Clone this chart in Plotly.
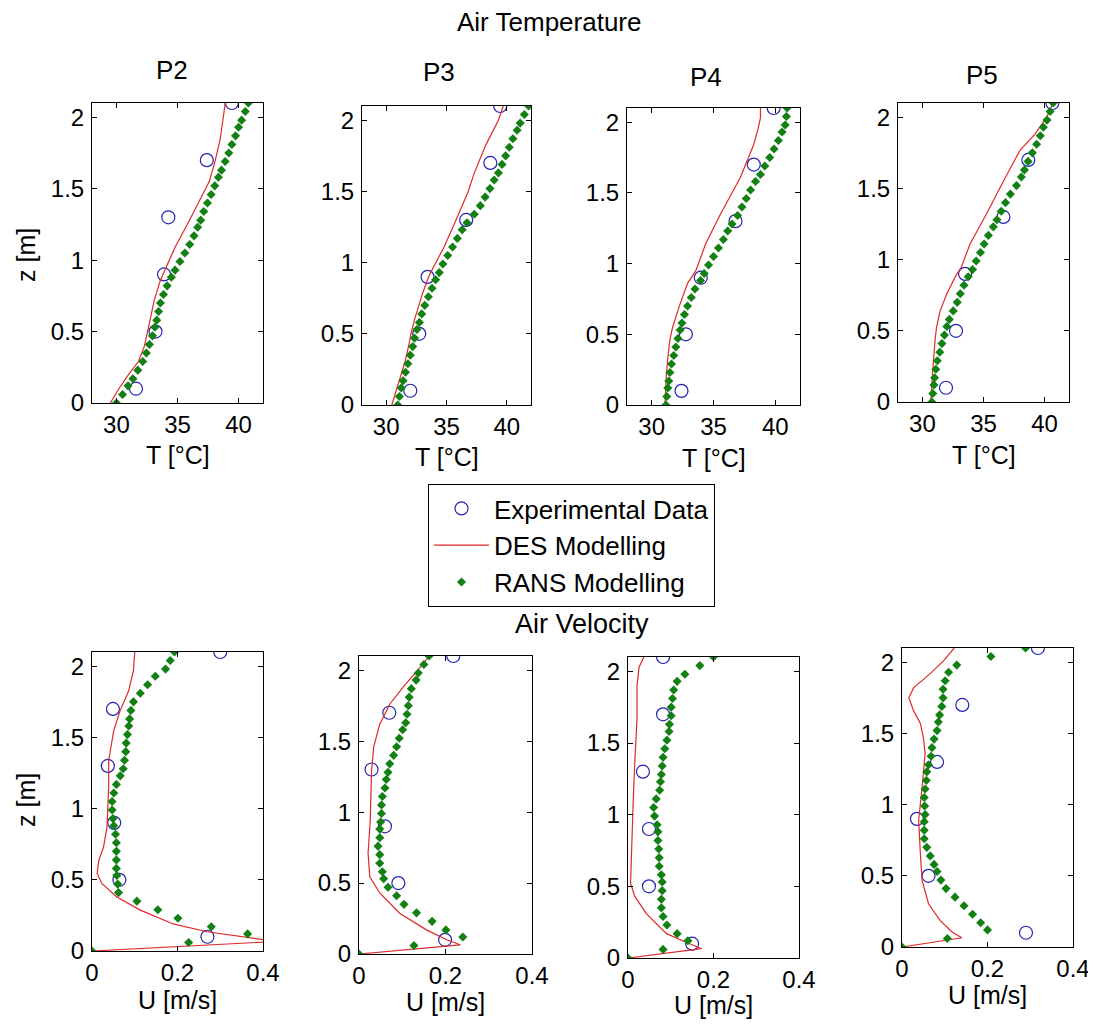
import plotly.graph_objects as go

# The page body adds an 8 px margin at the top-left, so the figure is shifted by it
OFF = 8
W, H = 1096 - OFF, 1026 - OFF
FONT = "Liberation Sans, Arial, sans-serif"

# ---------------- data ----------------
z_exp = [0.1, 0.5, 0.9, 1.3, 1.7, 2.1]
z_rans = [0, 0.06, 0.12, 0.17, 0.23, 0.29, 0.35, 0.41, 0.47, 0.53, 0.58, 0.64, 0.70,
          0.76, 0.82, 0.88, 0.93, 0.99, 1.05, 1.11, 1.17, 1.23, 1.28, 1.34, 1.40, 1.46,
          1.52, 1.58, 1.63, 1.69, 1.75, 1.81, 1.87, 1.93, 1.98, 2.04, 2.10]

# Air temperature [°C]
T_exp_P2 = [31.6, 33.2, 33.9, 34.25, 37.4, 39.45]
T_exp_P3 = [32.0, 32.74, 33.43, 36.63, 38.63, 39.45]
T_exp_P4 = [32.41, 32.76, 33.97, 36.78, 38.26, 39.87]
T_exp_P5 = [31.93, 32.75, 33.49, 36.63, 38.67, 40.64]

T_rans_P2 = [30.0, 30.5, 30.95, 31.35, 31.75, 32.15, 32.45, 32.7, 32.95, 33.15, 33.3, 33.45, 33.6,
             33.85, 34.15, 34.5, 34.8, 35.2, 35.6, 36.0, 36.35, 36.65, 36.9, 37.15, 37.45, 37.75,
             38.05, 38.35, 38.6, 38.9, 39.2, 39.45, 39.75, 40.0, 40.25, 40.55, 40.8]
T_rans_P3 = [30.96, 31.1, 31.25, 31.4, 31.6, 31.8, 32.0, 32.2, 32.35, 32.55, 32.75, 32.95, 33.2,
             33.5, 33.8, 34.1, 34.4, 34.7, 35.1, 35.5, 35.9, 36.3, 36.7, 37.3, 37.8, 38.2,
             38.6, 38.95, 39.3, 39.6, 39.9, 40.2, 40.5, 40.85, 41.1, 41.45, 41.8]
T_rans_P4 = [31.15, 31.22, 31.3, 31.38, 31.47, 31.6, 31.78, 31.95, 32.12, 32.3, 32.45, 32.65, 32.9,
             33.2, 33.5, 33.95, 34.25, 34.6, 35.0, 35.4, 35.8, 36.15, 36.5, 36.95, 37.3, 37.65,
             38.0, 38.4, 38.8, 39.15, 39.55, 39.9, 40.25, 40.55, 40.8, 40.9, 40.95]
T_rans_P5 = [30.77, 30.85, 30.94, 31.0, 31.1, 31.22, 31.42, 31.6, 31.8, 32.0, 32.2, 32.52, 32.85,
             33.1, 33.4, 33.75, 34.1, 34.4, 34.75, 35.05, 35.4, 35.8, 36.1, 36.45, 36.8, 37.2,
             37.7, 38.1, 38.35, 38.65, 39.0, 39.35, 39.65, 39.9, 40.2, 40.45, 40.7]

z_des_T_P2 = [0, 0.1, 0.2, 0.29, 0.4, 0.58, 0.72, 0.86, 1.0, 1.09, 1.25, 1.42, 1.55, 1.7, 1.85, 2.03, 2.1]
T_des_P2 = [29.5, 30.2, 31.0, 31.8, 32.3, 32.75, 33.1, 33.6, 34.3, 34.8, 35.8, 36.85, 37.6, 38.1, 38.5, 38.8, 38.9]
z_des_T_P3 = [0, 0.1, 0.2, 0.3, 0.43, 0.5, 0.6, 0.78, 0.91, 1.0, 1.11, 1.32, 1.5, 1.62, 1.82, 2.0, 2.1]
T_des_P3 = [30.47, 30.85, 31.23, 31.55, 31.9, 32.05, 32.35, 33.0, 33.56, 34.1, 34.8, 35.9, 36.8, 37.26, 38.22, 39.3, 39.7]
z_des_T_P4 = [0, 0.1, 0.2, 0.32, 0.45, 0.55, 0.69, 0.86, 0.95, 1.14, 1.35, 1.61, 1.84, 1.95, 2.03, 2.1]
T_des_P4 = [31.07, 31.12, 31.18, 31.29, 31.45, 31.69, 32.2, 32.9, 33.57, 34.37, 35.57, 37.18, 38.25, 38.6, 38.8, 38.8]
z_des_T_P5 = [0, 0.15, 0.29, 0.45, 0.53, 0.64, 0.76, 0.877, 0.95, 1.11, 1.32, 1.53, 1.77, 1.88, 2.0, 2.1]
T_des_P5 = [30.68, 30.78, 30.9, 31.05, 31.17, 31.45, 32.0, 32.67, 33.2, 33.9, 35.24, 36.5, 38.0, 39.2, 40.17, 40.7]

# Air velocity [m/s]
U_exp_P2 = [0.27, 0.064, 0.052, 0.037, 0.049, 0.30]
U_exp_P3 = [0.199, 0.091, 0.060, 0.029, 0.070, 0.218]
U_exp_P4 = [0.150, 0.049, 0.049, 0.035, 0.082, 0.082]
U_exp_P5 = [0.29, 0.062, 0.035, 0.082, 0.141, 0.318]

U_rans_P2 = [0, 0.226, 0.364, 0.279, 0.201, 0.154, 0.105, 0.062, 0.060, 0.058, 0.057, 0.057, 0.057,
             0.057, 0.055, 0.051, 0.049, 0.047, 0.047, 0.051, 0.057, 0.066, 0.073, 0.076, 0.079, 0.080,
             0.083, 0.086, 0.088, 0.091, 0.097, 0.113, 0.130, 0.148, 0.172, 0.183, 0.193]
U_rans_P3 = [0, 0.127, 0.240, 0.201, 0.169, 0.133, 0.104, 0.087, 0.067, 0.057, 0.054, 0.048, 0.048,
             0.044, 0.048, 0.048, 0.050, 0.052, 0.052, 0.054, 0.060, 0.063, 0.067, 0.071, 0.080, 0.087,
             0.093, 0.101, 0.108, 0.111, 0.114, 0.116, 0.121, 0.132, 0.137, 0.150, 0.162]
U_rans_P4 = [0, 0.082, 0.140, 0.115, 0.091, 0.082, 0.078, 0.078, 0.080, 0.080, 0.078, 0.073, 0.073,
             0.072, 0.070, 0.070, 0.068, 0.062, 0.060, 0.066, 0.074, 0.076, 0.078, 0.080, 0.082, 0.086,
             0.091, 0.096, 0.097, 0.101, 0.101, 0.104, 0.107, 0.115, 0.133, 0.168, 0.200]
U_rans_P5 = [0, 0.106, 0.200, 0.184, 0.165, 0.145, 0.124, 0.103, 0.091, 0.082, 0.075, 0.066, 0.058,
             0.052, 0.052, 0.052, 0.054, 0.053, 0.052, 0.054, 0.057, 0.058, 0.062, 0.068, 0.070, 0.075,
             0.082, 0.085, 0.088, 0.093, 0.096, 0.096, 0.101, 0.109, 0.128, 0.208, 0.289]

z_des_U_P2 = [0, 0.03, 0.062, 0.07, 0.08, 0.135, 0.19, 0.287, 0.38, 0.474, 0.545, 0.638, 0.73, 0.87,
              1.15, 1.34, 1.55, 1.69, 1.83, 1.97, 2.1]
U_des_P2 = [0, 0.19, 0.40, 0.45, 0.40, 0.269, 0.19, 0.113, 0.058, 0.023, 0.012, 0.016, 0.027, 0.035,
            0.039, 0.039, 0.051, 0.066, 0.086, 0.097, 0.10]
z_des_U_P3 = [0, 0.065, 0.10, 0.17, 0.287, 0.43, 0.544, 0.71, 0.94, 1.29, 1.46, 1.62, 1.76, 1.88, 1.99, 2.09]
U_des_P3 = [0, 0.234, 0.203, 0.156, 0.094, 0.048, 0.025, 0.021, 0.026, 0.029, 0.034, 0.048, 0.071, 0.102, 0.133, 0.16]
z_des_U_P4 = [0, 0.065, 0.11, 0.17, 0.31, 0.43, 0.52, 0.73, 1.08, 1.38, 1.66, 1.9, 2.03, 2.1]
U_des_P4 = [0, 0.172, 0.136, 0.09, 0.043, 0.016, 0.006, 0.008, 0.012, 0.016, 0.021, 0.021, 0.026, 0.037]
z_des_U_P5 = [0, 0.065, 0.105, 0.187, 0.304, 0.468, 0.655, 0.89, 1.12, 1.357, 1.47, 1.57, 1.66, 1.75,
              1.82, 1.92, 2.01, 2.1]
U_des_P5 = [0, 0.14, 0.117, 0.089, 0.062, 0.047, 0.043, 0.039, 0.047, 0.054, 0.050, 0.043, 0.027, 0.016,
            0.027, 0.066, 0.097, 0.122]

z_ticks = [0, 0.5, 1, 1.5, 2]
z_tick_labels = ["0", "0.5", "1", "1.5", "2"]
T_ticks = [30, 35, 40]
U_ticks = [0, 0.2, 0.4]
U_tick_labels = ["0", "0.2", "0.4"]
panel_names = ["P2", "P3", "P4", "P5"]

# ---------------- layout geometry (reference pixels) ----------------
top_boxes = [(92, 263, 103, 403), (362, 531, 106, 405), (627, 800, 108, 405), (898, 1069, 103, 402)]
bot_boxes = [(92, 263, 652, 951), (359, 532, 656, 954), (628, 799, 657, 958), (902, 1073, 648, 947)]
title_pos = [(172, 70), (439, 72), (706, 77), (982, 75)]
xlabel_y = [455, 457, 458, 455, 1000, 1002, 1005, 995]


def fx(X):
    return (X - OFF) / W


def fy(Y):
    return 1 - (Y - OFF) / H


C_EXP = "#2323b0"
C_DES = "#e02828"
C_RANS = "#128012"

panels = [
    (T_exp_P2, z_des_T_P2, T_des_P2, T_rans_P2),
    (T_exp_P3, z_des_T_P3, T_des_P3, T_rans_P3),
    (T_exp_P4, z_des_T_P4, T_des_P4, T_rans_P4),
    (T_exp_P5, z_des_T_P5, T_des_P5, T_rans_P5),
    (U_exp_P2, z_des_U_P2, U_des_P2, U_rans_P2),
    (U_exp_P3, z_des_U_P3, U_des_P3, U_rans_P3),
    (U_exp_P4, z_des_U_P4, U_des_P4, U_rans_P4),
    (U_exp_P5, z_des_U_P5, U_des_P5, U_rans_P5),
]

fig = go.Figure()
layout = dict(
    width=W, height=H, margin=dict(l=0, r=0, t=0, b=0, autoexpand=False),
    paper_bgcolor="white", plot_bgcolor="white",
    font=dict(family=FONT, color="black"),
    showlegend=True,
    legend=dict(x=fx(428), y=fy(484), xanchor="left", yanchor="top",
                bordercolor="black", borderwidth=1, bgcolor="white",
                font=dict(size=26, family=FONT, color="black"),
                itemwidth=55, traceorder="normal"),
)

annotations = []
for i, (exp, zd, des, rans) in enumerate(panels):
    k = i + 1
    xa = "x" if k == 1 else f"x{k}"
    ya = "y" if k == 1 else f"y{k}"
    first = (k == 1)
    fig.add_trace(go.Scatter(x=exp, y=z_exp, mode="markers", name="Experimental Data",
                             marker=dict(symbol="circle-open", size=13, color=C_EXP,
                                         line=dict(width=1.2, color=C_EXP)),
                             xaxis=xa, yaxis=ya, showlegend=first, legendgroup="exp"))
    fig.add_trace(go.Scatter(x=des, y=zd, mode="lines", name="DES Modelling",
                             line=dict(color=C_DES, width=1.2),
                             xaxis=xa, yaxis=ya, showlegend=first, legendgroup="des"))
    fig.add_trace(go.Scatter(x=rans, y=z_rans, mode="markers", name="RANS Modelling",
                             marker=dict(symbol="diamond", size=7, color=C_RANS),
                             xaxis=xa, yaxis=ya, showlegend=first, legendgroup="rans"))

    x0, x1, y0, y1 = top_boxes[i] if i < 4 else bot_boxes[i - 4]
    common = dict(showline=True, linecolor="black", linewidth=1, mirror="ticks",
                  ticks="inside", ticklen=5, tickcolor="black", showgrid=False, zeroline=False,
                  tickfont=dict(size=24, family=FONT, color="black"), fixedrange=True,
                  automargin=False, ticklabeloverflow="allow")
    if i < 4:
        xax = dict(domain=[fx(x0), fx(x1)], anchor=ya, range=[28, 42],
                   tickvals=T_ticks, ticktext=[str(t) for t in T_ticks], **common)
    else:
        xax = dict(domain=[fx(x0), fx(x1)], anchor=ya, range=[0, 0.4],
                   tickvals=U_ticks, ticktext=U_tick_labels, **common)
    yax = dict(domain=[fy(y1), fy(y0)], anchor=xa, range=[0, 2.1],
               tickvals=z_ticks, ticktext=z_tick_labels, ticklabelstandoff=2, **common)
    layout["xaxis" if k == 1 else f"xaxis{k}"] = xax
    layout["yaxis" if k == 1 else f"yaxis{k}"] = yax

    xlabel = "T [°C]" if i < 4 else "U [m/s]"
    annotations.append(dict(text=xlabel, x=fx((x0 + x1) / 2), y=fy(xlabel_y[i]), xref="paper", yref="paper",
                            xanchor="center", yanchor="middle", showarrow=False,
                            font=dict(size=25, family=FONT, color="black")))

for name, (px, py) in zip(panel_names, title_pos):
    annotations.append(dict(text=name, x=fx(px), y=fy(py), xref="paper", yref="paper",
                            xanchor="center", yanchor="middle", showarrow=False,
                            font=dict(size=26, family=FONT, color="black")))

for txt, py in [("z [m]", 255), ("z [m]", 800)]:
    annotations.append(dict(text=txt, x=fx(26), y=fy(py), xref="paper", yref="paper",
                            xanchor="center", yanchor="middle", showarrow=False, textangle=-90,
                            font=dict(size=25, family=FONT, color="black")))

annotations.append(dict(text="Air Temperature", x=fx(549), y=fy(22), xref="paper", yref="paper",
                        xanchor="center", yanchor="middle", showarrow=False,
                        font=dict(size=26, family=FONT, color="black")))
annotations.append(dict(text="Air Velocity", x=fx(582), y=fy(624), xref="paper", yref="paper",
                        xanchor="center", yanchor="middle", showarrow=False,
                        font=dict(size=27, family=FONT, color="black")))

layout["annotations"] = annotations
fig.update_layout(**layout)
fig.write_html("out.html")
